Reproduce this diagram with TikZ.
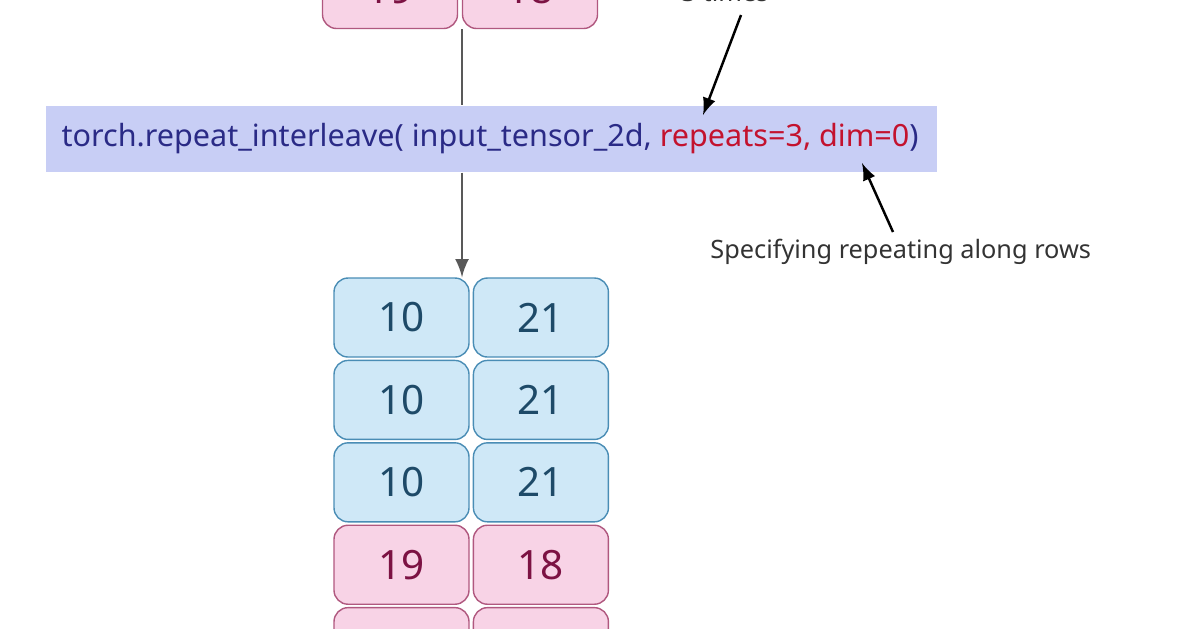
\documentclass[tikz,border=0pt]{standalone}
\usepackage{fontspec}
\setmainfont{Noto Sans}
\usetikzlibrary{positioning}
\definecolor{bluefill}{HTML}{CFE8F7}
\definecolor{blueline}{HTML}{4A8DB5}
\definecolor{bluetext}{HTML}{1E4A68}
\definecolor{pinkfill}{HTML}{F8D3E6}
\definecolor{pinkline}{HTML}{B0587F}
\definecolor{pinktext}{HTML}{7C1243}
\definecolor{callfill}{HTML}{C8CEF5}
\definecolor{calltext}{HTML}{2A2A86}
\definecolor{argtext}{HTML}{C3122E}
\tikzset{
  cell/.style={draw, rounded corners=4pt, minimum width=1.35cm, minimum height=0.79cm,
    inner sep=0pt, font=\fontsize{11.5}{11.5}\selectfont},
  bcell/.style={cell, fill=bluefill, draw=blueline, text=bluetext},
  pcell/.style={cell, fill=pinkfill, draw=pinkline, text=pinktext},
  note/.style={font=\fontsize{7.2}{8}\selectfont, text=black!80},
  link/.style={draw=black!65, line width=0.8pt},
  pointer/.style={draw=black, line width=0.7pt, -latex}
}
\begin{document}
\begin{tikzpicture}
  \useasboundingbox (0,0) rectangle (11.96,-6.28);
  \clip (0,0) rectangle (11.96,-6.28);

  % input row (cut off at the top)
  \node[pcell] (in1) at (3.90,0.11) {19};
  \node[pcell] (in2) at (5.30,0.11) {18};
  \node[note] (times) at (7.25,0.08) {3 times};
  \coordinate (tt) at (7.41,-0.15);
  \coordinate (top) at (4.62,-0.29);

  % function call
  \node[fill=callfill, minimum width=8.91cm, minimum height=0.66cm, inner sep=0pt,
    font=\fontsize{8.7}{9}\selectfont] (call) at (4.915,-1.39)
    {\makebox[8.6cm][l]{\textcolor{calltext}{torch.repeat\_interleave( input\_tensor\_2d,}
     \textcolor{argtext}{repeats=3, dim=0}\textcolor{calltext}{)}}};
  \node[note, anchor=west] (rows) at (6.98,-2.52) {Specifying repeating along rows};
  \coordinate (rep) at (7.03,-1.15);
  \coordinate (dim) at (8.62,-1.63);
  \coordinate (rs) at (8.93,-2.32);

  % output rows
  \node[bcell] (o11) at (4.015,-3.175) {10};
  \node[bcell, right=0.03cm of o11] (o12) {21};
  \node[bcell, below=0.02cm of o11] (o21) {10};
  \node[bcell, right=0.03cm of o21] (o22) {21};
  \node[bcell, below=0.02cm of o21] (o31) {10};
  \node[bcell, right=0.03cm of o31] (o32) {21};
  \node[pcell, below=0.02cm of o31] (o41) {19};
  \node[pcell, right=0.03cm of o41] (o42) {18};
  \node[pcell, below=0.02cm of o41] (o51) {19};
  \node[pcell, right=0.03cm of o51] (o52) {18};

  % connectors
  \draw[link] (top) -- (call.north -| top);
  \draw[link, -latex] (call.south -| top) -- (o11.north east -| top);
  \draw[pointer] (tt) -- (rep);
  \draw[pointer] (rs) -- (dim);
\end{tikzpicture}
\end{document}
